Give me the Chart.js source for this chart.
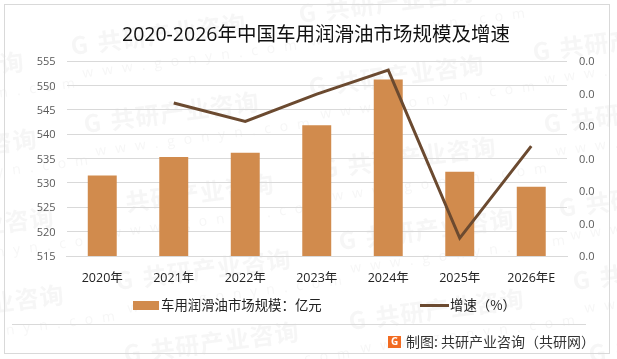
<!DOCTYPE html>
<html>
<head>
<meta charset="utf-8">
<script src="https://cdn.jsdelivr.net/npm/chart.js@4"></script>
<style>
  html, body { margin: 0; padding: 0; background: #fff; }
  #wrap { position: relative; width: 617px; height: 359px; }
</style>
</head>
<body>
<div id="wrap"><canvas id="chart" width="617" height="359"></canvas></div>
<script>
const categories = ['2020年', '2021年', '2022年', '2023年', '2024年', '2025年', '2026年E'];
const marketSize = [531.5, 535.3, 536.2, 541.8, 551.2, 532.3, 529.2];
const growthRate = [null, 0.0071, 0.0014, 0.0098, 0.0172, -0.0345, -0.0062];

const titleText = '2020-2026年中国车用润滑油市场规模及增速';
const barLabel = '车用润滑油市场规模：亿元';
const lineLabel = '增速（%）';
const sourceText = '制图: 共研产业咨询（共研网）';

const fontFamily = '"Open Sans", "Noto Sans CJK SC", sans-serif';
const cjkFamily = '"Noto Sans CJK SC", sans-serif';

// logo corner of each watermark
const watermarks = [
  [-150, 85], [-137, 162], [-120, 240], [-110, 318],
  [72, 47], [85, 125], [100, 207], [117, 282], [125, 355],
  [300, 15], [310, 88], [322, 170], [340, 242], [350, 322],
  [534, 53], [545, 125], [560, 209], [574, 282], [590, 355]
];

// watermark, frame, title etc are not part of the chart so draw them here
const decorations = {
  id: 'decorations',
  beforeDraw(chart) {
    const c = chart.ctx;
    c.save();
    c.fillStyle = '#fff';
    c.fillRect(0, 0, 617, 359);
    watermarks.forEach(function(p) {
      c.save();
      c.translate(p[0], p[1] + 8);
      c.rotate(-7.5 * Math.PI / 180);
      c.fillStyle = 'rgba(170,170,170,0.11)';
      c.textBaseline = 'alphabetic';
      c.font = 'bold 24px ' + cjkFamily;
      c.letterSpacing = '1px';
      c.fillText('G', 0, 0);
      c.fillText('共研产业咨询', 27, 0);
      c.font = '14px ' + fontFamily;
      c.letterSpacing = '9px';
      c.fillText('www.gonyn.com', 8, 24);
      c.restore();
    });
    c.restore();
  },
  afterDraw(chart) {
    const c = chart.ctx;
    c.save();
    c.strokeStyle = '#d9d9d9';
    c.lineWidth = 1;
    c.strokeRect(4.5, 4.5, 605, 349);
    c.beginPath();
    c.moveTo(12, 324.5);
    c.lineTo(586, 324.5);
    c.stroke();
    c.restore();

    c.save();
    c.fillStyle = '#111';
    c.textBaseline = 'middle';
    c.textAlign = 'left';
    c.font = '19.5px ' + fontFamily;
    c.fillText(titleText, 122, 35);

    c.fillStyle = '#d18b4d';
    c.fillRect(133, 301, 26, 9);
    c.fillStyle = '#222';
    c.font = '13.4px ' + cjkFamily;
    c.fillText(barLabel, 161, 305);

    c.strokeStyle = '#6b4a30';
    c.lineWidth = 3;
    c.beginPath();
    c.moveTo(420, 305.5);
    c.lineTo(449, 305.5);
    c.stroke();
    c.fillText(lineLabel, 450, 305);

    c.fillStyle = '#f26b21';
    c.fillRect(388, 336, 13, 12);
    c.fillStyle = '#fff';
    c.font = 'bold 10px ' + fontFamily;
    c.textAlign = 'center';
    c.fillText('G', 394.5, 342);

    c.textAlign = 'left';
    c.fillStyle = '#333';
    c.font = '14px ' + cjkFamily;
    c.fillText(sourceText, 406, 342);
    c.restore();
  }
};

new Chart(document.getElementById('chart'), {
  type: 'bar',
  data: {
    labels: categories,
    datasets: [
      {
        type: 'line',
        label: lineLabel,
        data: growthRate,
        yAxisID: 'y1',
        borderColor: '#6b4a30',
        borderWidth: 3,
        pointRadius: 0,
        tension: 0,
        order: 1
      },
      {
        type: 'bar',
        label: barLabel,
        data: marketSize,
        yAxisID: 'y',
        backgroundColor: '#d18b4d',
        categoryPercentage: 1,
        barPercentage: 0.405,
        order: 2
      }
    ]
  },
  options: {
    responsive: false,
    animation: false,
    layout: { padding: { left: 0, right: 0, top: 61, bottom: 0 } },
    plugins: {
      legend: { display: false },
      title: { display: false },
      tooltip: { enabled: false }
    },
    scales: {
      x: {
        afterFit(s) { s.height = 103; },
        grid: { display: false },
        border: { color: '#d9d9d9' },
        ticks: { color: '#222', font: { size: 12.5, family: fontFamily }, padding: 7, maxRotation: 0 }
      },
      y: {
        position: 'left',
        min: 515,
        max: 555,
        afterFit(s) { s.width = 66.5; },
        grid: { color: '#d9d9d9', drawTicks: false },
        border: { display: false },
        ticks: { stepSize: 5, color: '#595959', padding: 11, labelOffset: 1, font: { size: 11, family: fontFamily } }
      },
      y1: {
        position: 'right',
        min: -0.04,
        max: 0.02,
        afterFit(s) { s.width = 50; },
        grid: { display: false },
        border: { display: false },
        ticks: {
          stepSize: 0.01,
          color: '#595959',
          padding: 4,
          labelOffset: 1,
          font: { size: 11, family: fontFamily },
          callback: function(v) { return Math.abs(v).toFixed(1); }
        }
      }
    }
  },
  plugins: [decorations]
});
</script>
</body>
</html>
